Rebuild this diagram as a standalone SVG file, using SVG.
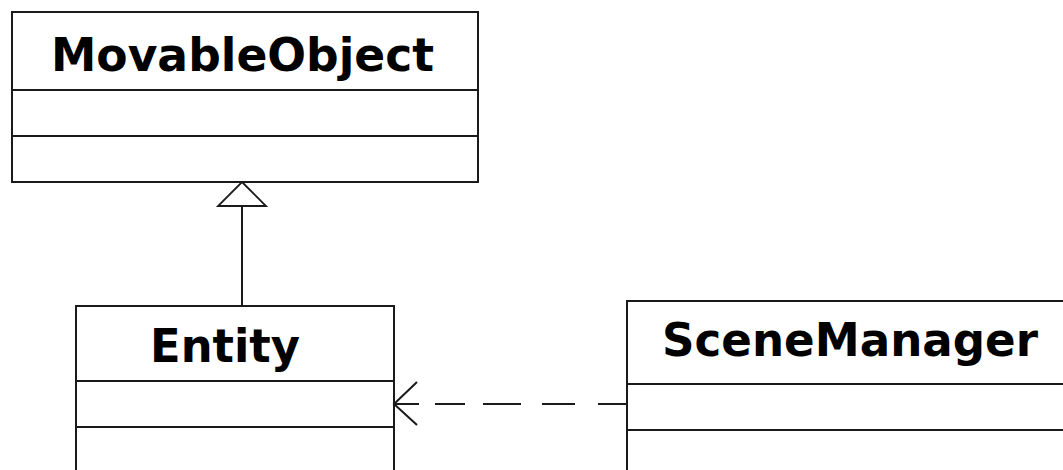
<svg xmlns="http://www.w3.org/2000/svg" width="1063" height="470" viewBox="0 0 1063 470">
  <style>
    .box { fill: #ffffff; stroke: #1a1a1a; stroke-width: 2; }
    .sep { stroke: #1a1a1a; stroke-width: 2; fill: none; }
    .name { font-family: "DejaVu Sans", Verdana, sans-serif; font-weight: bold; font-size: 46px; fill: #000000; }
    .edge { stroke: #1a1a1a; stroke-width: 2; fill: none; }
    .head { stroke: #1a1a1a; stroke-width: 1.8; fill: #ffffff; }
  </style>
  <rect x="0" y="0" width="1063" height="470" fill="#ffffff"/>

  <g id="movable-object">
    <rect class="box" x="12" y="12" width="466" height="170"/>
    <line class="sep" x1="12" y1="90" x2="478" y2="90"/>
    <line class="sep" x1="12" y1="136" x2="478" y2="136"/>
    <text class="name" x="51" y="71" textLength="383" lengthAdjust="spacingAndGlyphs">MovableObject</text>
  </g>

  <g id="entity">
    <rect class="box" x="76" y="306" width="318" height="180"/>
    <line class="sep" x1="76" y1="381" x2="394" y2="381"/>
    <line class="sep" x1="76" y1="427" x2="394" y2="427"/>
    <text class="name" x="150" y="362" textLength="150" lengthAdjust="spacingAndGlyphs">Entity</text>
  </g>

  <g id="scene-manager">
    <rect class="box" x="627" y="301" width="460" height="190"/>
    <line class="sep" x1="627" y1="384" x2="1063" y2="384"/>
    <line class="sep" x1="627" y1="430" x2="1063" y2="430"/>
    <text class="name" x="662" y="356" textLength="376" lengthAdjust="spacingAndGlyphs">SceneManager</text>
  </g>

  <g id="connectors">
    <!-- generalization: Entity to MovableObject -->
    <line class="edge" x1="242" y1="306" x2="242" y2="206"/>
    <polygon class="head" points="242,182 266,206 218,206"/>
    <!-- dependency: SceneManager to Entity -->
    <path class="edge" d="M394 404H419 M435 404H465 M483 404H521 M542 404H575 M598 404H627"/>
    <path class="edge" d="M417 382 L394 404 L417 425"/>
  </g>
</svg>
